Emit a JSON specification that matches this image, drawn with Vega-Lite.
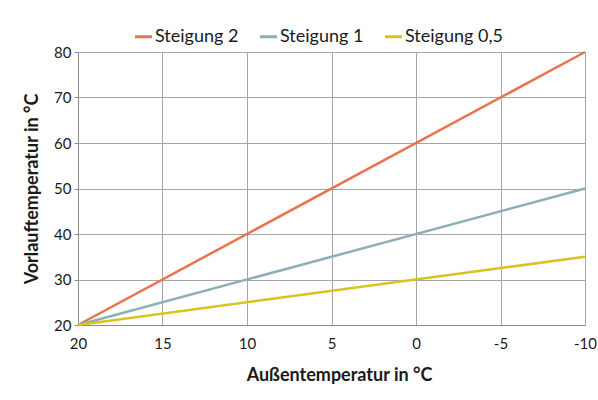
{
  "$schema": "https://vega.github.io/schema/vega-lite/v6.json",
  "autosize": "none",
  "width": 507,
  "height": 273,
  "padding": {"left": 78, "top": 52, "right": 13, "bottom": 75},
  "background": "white",
  "config": {
    "font": "Lato",
    "view": {"stroke": null},
    "axis": {
      "gridColor": "#a6a6a6",
      "gridWidth": 1,
      "domainColor": "#8c8c8c",
      "tickColor": "#8c8c8c",
      "labelColor": "#1a1a1a",
      "titleColor": "#1a1a1a",
      "labelFontSize": 15,
      "titleFontSize": 18,
      "titleFontWeight": "bold",
      "labelFont": "Lato",
      "titleFont": "Lato"
    }
  },
  "data": {
    "values": [
      {"aussen": 20, "vorlauf": 20, "serie": "Steigung 2"},
      {"aussen": -10, "vorlauf": 80, "serie": "Steigung 2"},
      {"aussen": 20, "vorlauf": 20, "serie": "Steigung 1"},
      {"aussen": -10, "vorlauf": 50, "serie": "Steigung 1"},
      {"aussen": 20, "vorlauf": 20, "serie": "Steigung 0,5"},
      {"aussen": -10, "vorlauf": 35, "serie": "Steigung 0,5"}
    ]
  },
  "mark": {"type": "line", "strokeWidth": 2.5, "clip": false},
  "encoding": {
    "x": {
      "field": "aussen",
      "type": "quantitative",
      "scale": {"domain": [20, -10], "nice": false, "zero": false},
      "axis": {
        "title": "Außentemperatur in °C",
        "values": [20, 15, 10, 5, 0, -5, -10],
        "labelExpr": "replace(datum.label, '−', '-')",
        "ticks": false,
        "labelPadding": 11,
        "titlePadding": 15,
        "titleX": 261,
        "labelFlush": false
      }
    },
    "y": {
      "field": "vorlauf",
      "type": "quantitative",
      "scale": {"domain": [20, 80], "nice": false, "zero": false},
      "axis": {
        "title": "Vorlauftemperatur in °C",
        "values": [20, 30, 40, 50, 60, 70, 80],
        "tickSize": 4,
        "labelPadding": 3,
        "titlePadding": 12,
        "labelFlush": false
      }
    },
    "color": {
      "field": "serie",
      "type": "nominal",
      "scale": {
        "domain": ["Steigung 2", "Steigung 1", "Steigung 0,5"],
        "range": ["#e8744c", "#8cb0b5", "#d8c320"]
      },
      "legend": {
        "title": null,
        "orient": "none",
        "direction": "horizontal",
        "legendX": 55,
        "legendY": -26,
        "symbolType": "stroke",
        "symbolStrokeWidth": 3,
        "symbolSize": 290,
        "labelFontSize": 18,
        "labelColor": "#1a1a1a",
        "labelOffset": 1,
        "columnPadding": 14
      }
    }
  }
}
